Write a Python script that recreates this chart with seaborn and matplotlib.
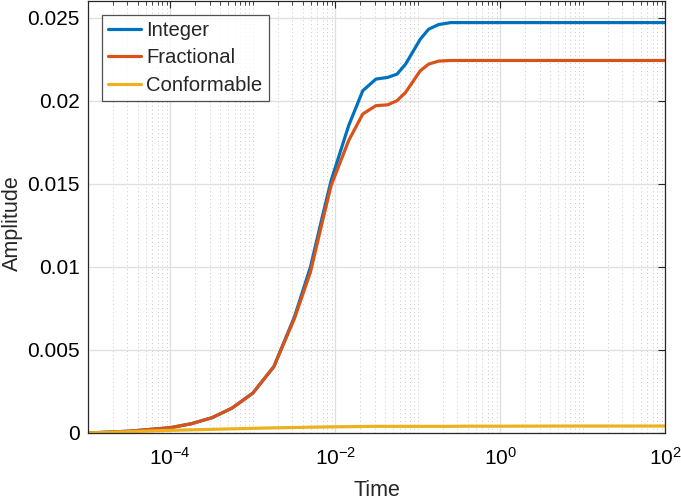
import numpy as np
import pandas as pd
import matplotlib
matplotlib.use("Agg")
import matplotlib.pyplot as plt
import matplotlib.ticker as mticker
import seaborn as sns

# values
time = [1.0e-5, 3.2e-5, 1.0e-4, 1.8e-4, 3.2e-4, 5.6e-4, 1.0e-3, 1.8e-3,
        3.2e-3, 5.0e-3, 7.1e-3, 8.9e-3, 1.45e-2, 2.15e-2, 3.1e-2, 4.3e-2,
        5.6e-2, 7.1e-2, 0.107, 0.135, 0.178, 0.25, 0.4, 1.0, 10.0, 100.0]
integer = [0.0, 0.00011, 0.00032, 0.00056, 0.00092, 0.0015, 0.0024, 0.0040,
           0.0070, 0.0100, 0.0132, 0.0152, 0.0185, 0.0206, 0.0213, 0.0214,
           0.0216, 0.0222, 0.0237, 0.0243, 0.02458, 0.0247, 0.0247, 0.0247,
           0.0247, 0.0247]
fractional = [0.0, 0.00011, 0.00032, 0.00056, 0.00092, 0.0015, 0.0024, 0.0040,
              0.0069, 0.0097, 0.0129, 0.0149, 0.0176, 0.0192, 0.0197, 0.01975,
              0.0200, 0.0205, 0.0218, 0.0222, 0.02238, 0.02242, 0.02242,
              0.02242, 0.02242, 0.02242]
conformable = [0.0, 0.00008, 0.00016, 0.00019, 0.00022, 0.00025, 0.00028,
               0.00031, 0.00033, 0.00035, 0.00036, 0.00037, 0.00038, 0.00039,
               0.0004, 0.0004, 0.0004, 0.0004, 0.0004, 0.0004, 0.0004,
               0.0004, 0.00041, 0.00041, 0.00042, 0.00042]
series_names = ["Integer", "Fractional", "Conformable"]
colors = ["#0072BD", "#D95319", "#EDB120"]
y_ticks = [0, 0.005, 0.01, 0.015, 0.02, 0.025]
y_tick_labels = ["0", "0.005", "0.01", "0.015", "0.02", "0.025"]
x_ticks = [1e-4, 1e-2, 1e0, 1e2]
x_tick_labels = ["$10^{-4}$", "$10^{-2}$", "$10^{0}$", "$10^{2}$"]

df = pd.DataFrame({"Time": time * 3,
                   "Amplitude": integer + fractional + conformable,
                   "Series": np.repeat(series_names, len(time))})

sns.set_theme(style="white")
plt.rcParams["font.family"] = ["Liberation Sans", "DejaVu Sans"]
plt.rcParams["mathtext.fontset"] = "custom"
plt.rcParams["mathtext.rm"] = "Liberation Sans"
plt.rcParams["mathtext.it"] = "Liberation Sans"

fig = plt.figure(figsize=(6.81, 5.0), dpi=100)
ax = fig.add_axes([0.129, 0.134, 0.848, 0.864])

sns.lineplot(data=df, x="Time", y="Amplitude", hue="Series",
             hue_order=series_names, palette=colors, linewidth=2.3,
             ax=ax, legend=False)

ax.set_xscale("log")
ax.set_xlim(1e-5, 1e2)
ax.set_ylim(0, 0.026)

ax.set_xticks(x_ticks)
ax.set_xticklabels(x_tick_labels)
ax.xaxis.set_minor_locator(mticker.LogLocator(base=10, subs=np.arange(1, 10), numticks=50))
ax.xaxis.set_minor_formatter(mticker.NullFormatter())
ax.set_yticks(y_ticks)
ax.set_yticklabels(y_tick_labels)

ax.grid(True, which="major", color="#dfdfdf", linewidth=0.9, linestyle="-")
ax.grid(True, which="minor", axis="x", color="#c8c8c8", linewidth=0.7, linestyle=(0, (1, 3)))
ax.set_axisbelow(True)

ax.tick_params(which="both", direction="in", top=True, right=True,
               colors="#262626", labelcolor="black", labelsize=15)
ax.tick_params(which="major", length=5, width=0.8)
ax.tick_params(which="minor", length=3, width=0.6)
ax.tick_params(axis="x", which="major", pad=10)
ax.tick_params(axis="y", which="major", pad=6)
for s in ax.spines.values():
    s.set_color("#262626")
    s.set_linewidth(0.9)

ax.set_xlabel("Time", fontsize=15.5)
ax.set_ylabel("Amplitude", fontsize=15.5)
ax.xaxis.set_label_coords(0.5, -0.108)
ax.yaxis.set_label_coords(-0.112, 0.485)

handles = [plt.Line2D([], [], color=c, linewidth=2.3) for c in colors]
leg = ax.legend(handles, series_names, loc="upper left", fontsize=14.6,
                frameon=True, fancybox=False, edgecolor="#262626",
                handlelength=1.65, handletextpad=0.25, borderpad=0.3,
                labelspacing=0.42, borderaxespad=0,
                bbox_to_anchor=(0.024, 0.968))
leg.get_frame().set_linewidth(0.9)

fig.savefig("out.png", dpi=100)
